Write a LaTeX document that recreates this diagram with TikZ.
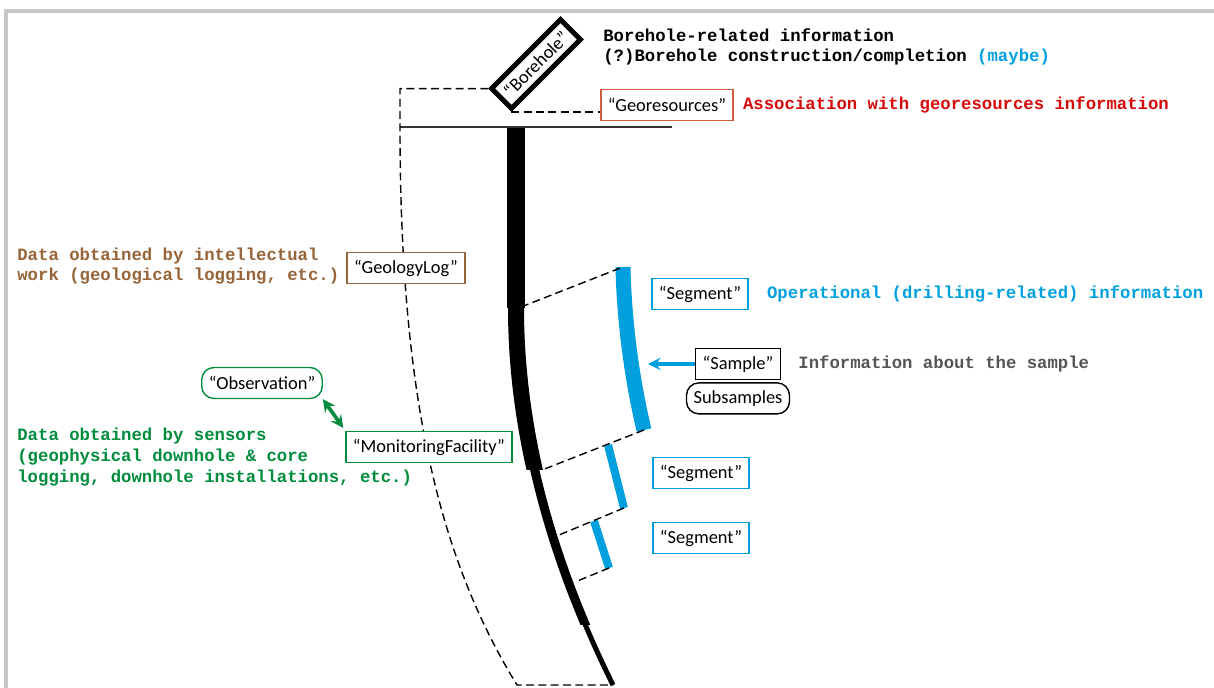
\documentclass[tikz,border=0pt]{standalone}
\usepackage{fontspec}
\setmainfont{Carlito}
\setmonofont{Liberation Mono}
\usepackage{xcolor}
\usetikzlibrary{arrows,positioning}
\definecolor{segblue}{RGB}{0,160,223}
\definecolor{logbrown}{RGB}{150,100,55}
\definecolor{sensgreen}{RGB}{0,140,60}
\definecolor{assocred}{RGB}{215,10,10}
\definecolor{geored}{RGB}{210,90,60}
\definecolor{infogrey}{RGB}{85,85,85}
\tikzset{%
	box/.style      = {draw, rectangle, line width=0.8pt, minimum height=0.62cm, inner xsep=4pt, font=\fontsize{10.5}{12}\selectfont},
	roundbox/.style = {box, rounded corners=7pt},
	note/.style     = {anchor=west, inner sep=0pt, align=left, font=\ttfamily\bfseries\fontsize{9.85}{11.8}\selectfont},
	dashline/.style = {line width=0.8pt, dash pattern=on 4.5pt off 2.5pt},
	band/.style     = {draw=segblue, line width=#1},
	arrow/.style    = {line width=2.1pt, >=stealth},
}

\begin{document}
\begin{tikzpicture}[x=0.02cm,y=-0.02cm]
	\useasboundingbox (0,0) rectangle (1214,688);
	\draw[black!22, line width=2pt] (6,688) -- (6,11) -- (1214,11);
	% ground surface and borehole outline
	\coordinate (gl) at (400,127);
	\draw[black!80, line width=0.8pt] (gl) -- (672,127);
	\node[box, rotate=45, line width=2.8pt, minimum width=1.84cm, minimum height=0.56cm] (bore) at (536,64) {“Borehole”};
	\draw[dashline] (bore.north west) -| (gl) .. controls (400,400) and (440,560) .. (517,685) -- (613,685);
	\fill (507,128) rectangle (525,308);
	\foreach \ya/\yb/\w in {308/470/0.32, 470/625/0.18, 625/686/0.1} {
		\begin{scope}
			\clip (450,\ya) rectangle (700,\yb);
			\draw[line width=\w cm] (516,308) .. controls (516,450) and (561,580) .. (613,685);
		\end{scope}
	}
	% segments
	\coordinate (b1) at (521,307);
	\coordinate (b2) at (542,470);
	\coordinate (b3) at (559,535);
	\coordinate (b4) at (575,582);
	\coordinate (s1t) at (623,267); \coordinate (s1b) at (644,430);
	\coordinate (s2t) at (608,445); \coordinate (s2b) at (624,508);
	\coordinate (s3t) at (594,521); \coordinate (s3b) at (609,568);
	\draw[band=0.3cm] (s1t) .. controls (624,320) and (632,380) .. (s1b);
	\draw[band=0.16cm] (s2t) -- (s2b);
	\draw[band=0.16cm] (s3t) -- (s3b);
	\draw[dashline] (b1) -- (s1t);
	\draw[dashline] (s1b) -- (b2);
	\draw[dashline] (s2b) -- (b3);
	\draw[dashline] (s3b) -- (b4);
	% labels
	\node[box, draw=geored] (geo) at (667,105) {“Georesources”};
	\draw[dashline] (bore.south west) -- (bore.south west -| geo.west);
	\node[box, draw=logbrown, fill=white] (geolog) at (406,268) {“GeologyLog”};
	\node[roundbox, draw=sensgreen] (obs) at (262,383) {“Observation”};
	\node[box, draw=sensgreen, fill=white] (mon) at (429,447) {“MonitoringFacility”};
	\node[box, draw=segblue] (seg1) at (700,294) {“Segment”};
	\node[box] (sample) at (738,364) {“Sample”};
	\node[roundbox, below=0.04cm of sample] (subs) {Subsamples};
	\node[box, draw=segblue] (seg2) at (701,473) {“Segment”};
	\node[box, draw=segblue] (seg3) at (701,538) {“Segment”};
	\coordinate (sarr) at (648,364);
	\draw[arrow, ->, segblue] (sample.west) -- (sarr);
	\draw[arrow, <->, sensgreen, shorten >=2pt] (obs.south east) -- (mon.north west);
	% notes
	\node[note] (bhinfo) at (603,47) {Borehole-related information\\(?)Borehole construction/completion \textcolor{segblue}{(maybe)}};
	\node[note, text=assocred, right=0.18cm of geo] (assoc) {Association with georesources information};
	\node[note, text=logbrown] (intel) at (17,266) {Data obtained by intellectual\\work (geological logging, etc.)};
	\node[note, text=sensgreen] (sens) at (17,457) {Data obtained by sensors\\(geophysical downhole \& core\\logging, downhole installations, etc.)};
	\node[note, text=segblue, right=0.36cm of seg1] (oper) {Operational (drilling-related) information};
	\node[note, text=infogrey, right=0.34cm of sample] (sinfo) {Information about the sample};
\end{tikzpicture}
\end{document}
